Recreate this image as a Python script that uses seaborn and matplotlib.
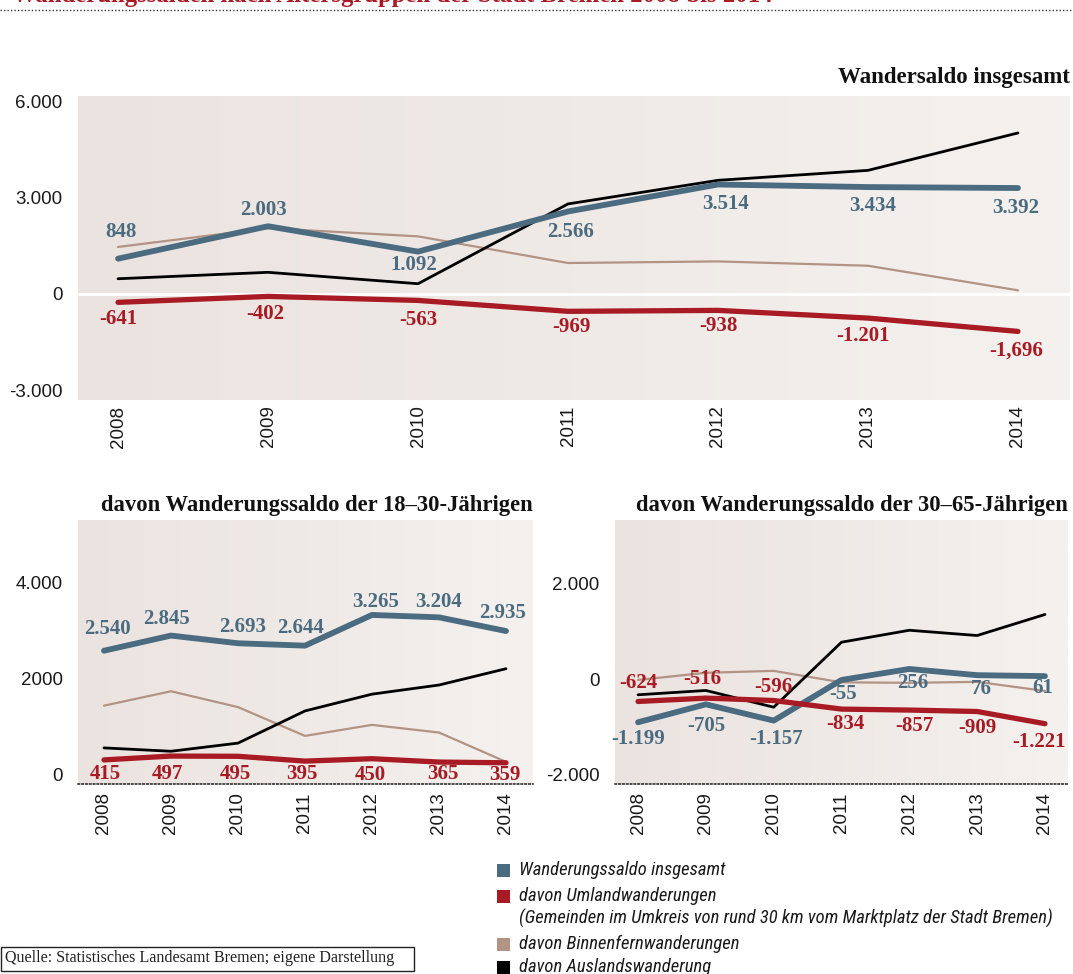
import numpy as np
import matplotlib
matplotlib.use("Agg")
import matplotlib.pyplot as plt
from matplotlib import font_manager
from matplotlib.colors import LinearSegmentedColormap
from matplotlib.patches import Rectangle
from matplotlib.lines import Line2D
import seaborn as sns

years = [2008, 2009, 2010, 2011, 2012, 2013, 2014]

# Wandersaldo insgesamt (line heights)
total_all = [1090, 2100, 1310, 2560, 3400, 3320, 3290]
total_umland = [-270, -85, -210, -550, -520, -760, -1175]
total_binnen = [1455, 2040, 1785, 955, 1005, 870, 105]
total_ausland = [465, 665, 310, 2795, 3530, 3840, 5005]
total_all_lbl = ["848", "2.003", "1.092", "2.566", "3.514", "3.434", "3.392"]
total_umland_lbl = ["-641", "-402", "-563", "-969", "-938", "-1.201", "-1,696"]

# 18-30-Jaehrige
young_all = [2575, 2890, 2730, 2680, 3320, 3270, 2985]
young_umland = [300, 380, 375, 275, 325, 255, 240]
young_binnen = [1430, 1730, 1400, 800, 1030, 870, 260]
young_ausland = [550, 480, 650, 1320, 1670, 1860, 2200]
young_all_lbl = ["2.540", "2.845", "2.693", "2.644", "3.265", "3.204", "2.935"]
young_umland_lbl = ["415", "497", "495", "395", "450", "365", "359"]

# 30-65-Jaehrige
mid_all = [-905, -530, -870, -20, 210, 80, 60]
mid_umland = [-470, -400, -450, -630, -650, -680, -935]
mid_binnen = [-20, 130, 170, -70, -80, -60, -250]
mid_ausland = [-330, -240, -590, 770, 1020, 910, 1350]
mid_all_lbl = ["-1.199", "-705", "-1.157", "-55", "256", "76", "61"]
mid_umland_lbl = ["-624", "-516", "-596", "-834", "-857", "-909", "-1.221"]

legend_labels = ["Wanderungssaldo insgesamt", "davon Umlandwanderungen",
                 "(Gemeinden im Umkreis von rund 30 km vom Marktplatz der Stadt Bremen)",
                 "davon Binnenfernwanderungen", "davon Auslandswanderung"]

BLUE = "#4b6b80"
RED = "#a81b25"
TAN = "#b39384"
BLACK = "#000000"

sns.set_style("white")
plt.rcParams['font.family'] = ['Liberation Sans', 'DejaVu Sans']

# condensed italic for the legend if one is installed, else a smaller regular one
installed = {f.name for f in font_manager.fontManager.ttflist}
if 'Liberation Sans Narrow' in installed:
    leg_font, leg_size = 'Liberation Sans Narrow', 13
elif 'Roboto Condensed' in installed:
    leg_font, leg_size = 'Roboto Condensed', 13.4
else:
    leg_font, leg_size = 'Liberation Sans', 11

W, H = 1073, 974
fig = plt.figure(figsize=(W / 100, H / 100), dpi=100)

bg_cmap = LinearSegmentedColormap.from_list("bg", ["#ebe3df", "#f4f1ee"])


def px_axes(l, t, r, b):
    return fig.add_axes([l / W, 1 - b / H, (r - l) / W, (b - t) / H])


def panel(ax, xlim, ylim, yticks, yticklabels, dotted):
    grad = np.linspace(0, 1, 256).reshape(1, -1)
    ax.imshow(grad, extent=[xlim[0], xlim[1], ylim[0], ylim[1]], aspect='auto',
              cmap=bg_cmap, zorder=0)
    ax.set_xlim(*xlim)
    ax.set_ylim(*ylim)
    ax.set_facecolor('none')
    ax.set_xticks(years)
    ax.set_xticklabels([str(y) for y in years], rotation=90, fontsize=13.5)
    ax.set_yticks(yticks)
    ax.set_yticklabels(yticklabels, fontsize=13.5)
    ax.tick_params(axis='both', length=0, colors='#1a1a1a')
    ax.tick_params(axis='y', pad=11)
    ax.tick_params(axis='x', pad=4 if not dotted else 6)
    ax.set_xlabel("")
    ax.set_ylabel("")
    for s in ax.spines.values():
        s.set_visible(False)
    if dotted:
        ax.spines['bottom'].set_visible(True)
        ax.spines['bottom'].set_linestyle((0, (1, 1.5)))
        ax.spines['bottom'].set_linewidth(1.1)
        ax.spines['bottom'].set_color('#222222')


def lines(ax, allv, uml, binn, ausl):
    sns.lineplot(x=years, y=binn, ax=ax, color=TAN, linewidth=1.6, zorder=2)
    sns.lineplot(x=years, y=ausl, ax=ax, color=BLACK, linewidth=2.0, zorder=3)
    sns.lineplot(x=years, y=allv, ax=ax, color=BLUE, linewidth=4.2, zorder=4,
                 solid_capstyle='round')
    sns.lineplot(x=years, y=uml, ax=ax, color=RED, linewidth=3.8, zorder=5,
                 solid_capstyle='round')


def labels(ax, vals, texts, color, dys, dxs):
    for yr, v, t, dy, dx in zip(years, vals, texts, dys, dxs):
        ax.annotate(t, (yr, v), xytext=(dx, dy), textcoords='offset pixels',
                    ha='center', va='center', fontsize=15, fontweight='bold',
                    family='Liberation Serif', color=color, zorder=6)


# top panel
ax1 = px_axes(78, 96, 1070, 400)
panel(ax1, (2007.733, 2014.347), (-3311, 6156), [-3000, 0, 3000, 6000],
      ["-3.000", "0", "3.000", "6.000"], dotted=False)
ax1.axhline(0, color='white', linewidth=2, zorder=1)
lines(ax1, total_all, total_umland, total_binnen, total_ausland)
labels(ax1, total_all, total_all_lbl, BLUE, [27, 16, -13, -21, -20, -19, -20],
       [3, -5, -4, 3, 8, 5, -2])
labels(ax1, total_umland, total_umland_lbl, RED, [-17, -18, -20, -16, -16, -18, -19],
       [0, -3, 0, 3, 0, -5, -2])

# bottom left panel
ax2 = px_axes(78, 520, 533, 784)
panel(ax2, (2007.612, 2014.403), (-202, 5298), [0, 2000, 4000],
      ["0", "2000", "4.000"], dotted=True)
lines(ax2, young_all, young_umland, young_binnen, young_ausland)
labels(ax2, young_all, young_all_lbl, BLUE, [22, 17, 16, 18, 13, 15, 18],
       [3, -4, 5, -4, 4, 0, -3])
labels(ax2, young_umland, young_umland_lbl, RED, [-14, -18, -18, -13, -16, -12, -12],
       [1, -4, -3, -3, -2, 4, -1])

# bottom right panel
ax3 = px_axes(615, 520, 1068, 784)
panel(ax3, (2007.66, 2014.34), (-2197, 3327), [-2000, 0, 2000],
      ["-2.000", "0", "2.000"], dotted=True)
lines(ax3, mid_all, mid_umland, mid_binnen, mid_ausland)
labels(ax3, mid_umland, mid_umland_lbl, RED, [18, 19, 14, -15, -16, -16, -18],
       [0, -4, 0, 4, 5, 0, -6])
labels(ax3, mid_all, mid_all_lbl, BLUE, [-17, -22, -18, -14, -14, -14, -12],
       [0, 0, 2, 2, 3, 4, -2])

# titles
serif = 'Liberation Serif'
fig.text(1070 / W, 1 - 78 / H, "Wandersaldo insgesamt", ha='right', va='center',
         fontsize=16.5, fontweight='bold', family=serif, color='#111111')
fig.text(533 / W, 1 - 505 / H, "davon Wanderungssaldo der 18\u201330-J\u00e4hrigen",
         ha='right', va='center', fontsize=16.3, fontweight='bold', family=serif,
         color='#111111')
fig.text(1068 / W, 1 - 505 / H, "davon Wanderungssaldo der 30\u201365-J\u00e4hrigen",
         ha='right', va='center', fontsize=16.3, fontweight='bold', family=serif,
         color='#111111')

# cut-off headline and dotted rule at the very top
fig.text(12 / W, 1 - 2 / H,
         "Wanderungssalden nach Altersgruppen der Stadt Bremen 2008 bis 2014",
         ha='left', va='baseline', fontsize=17.8, fontweight='bold', family=serif,
         color=RED)
fig.add_artist(Line2D([0, 1], [1 - 10 / H, 1 - 10 / H], transform=fig.transFigure,
                      color='#333333', linewidth=1, linestyle=(0, (1, 1.5))))

# legend
leg_colors = [BLUE, RED, None, TAN, BLACK]
leg_rows = [870, 896, 918, 944, 967]
for lab, col, yy in zip(legend_labels, leg_colors, leg_rows):
    if col is not None:
        fig.add_artist(Rectangle((497 / W, 1 - (yy + 6.5) / H), 13 / W, 13 / H,
                                 transform=fig.transFigure, facecolor=col,
                                 edgecolor='none'))
    fig.text(519 / W, 1 - yy / H, lab, ha='left', va='center', fontsize=leg_size,
             style='italic', family=leg_font, color='#1a1a1a')

# source box
fig.add_artist(Rectangle((0.5 / W, 1 - 970.5 / H), 413 / W, 24 / H,
                         transform=fig.transFigure, facecolor='white',
                         edgecolor='#222222', linewidth=1))
fig.text(5 / W, 1 - 958.5 / H,
         "Quelle: Statistisches Landesamt Bremen; eigene Darstellung",
         ha='left', va='center', fontsize=11.6, family=serif, color='#222222')

fig.savefig("out.png", dpi=100)
